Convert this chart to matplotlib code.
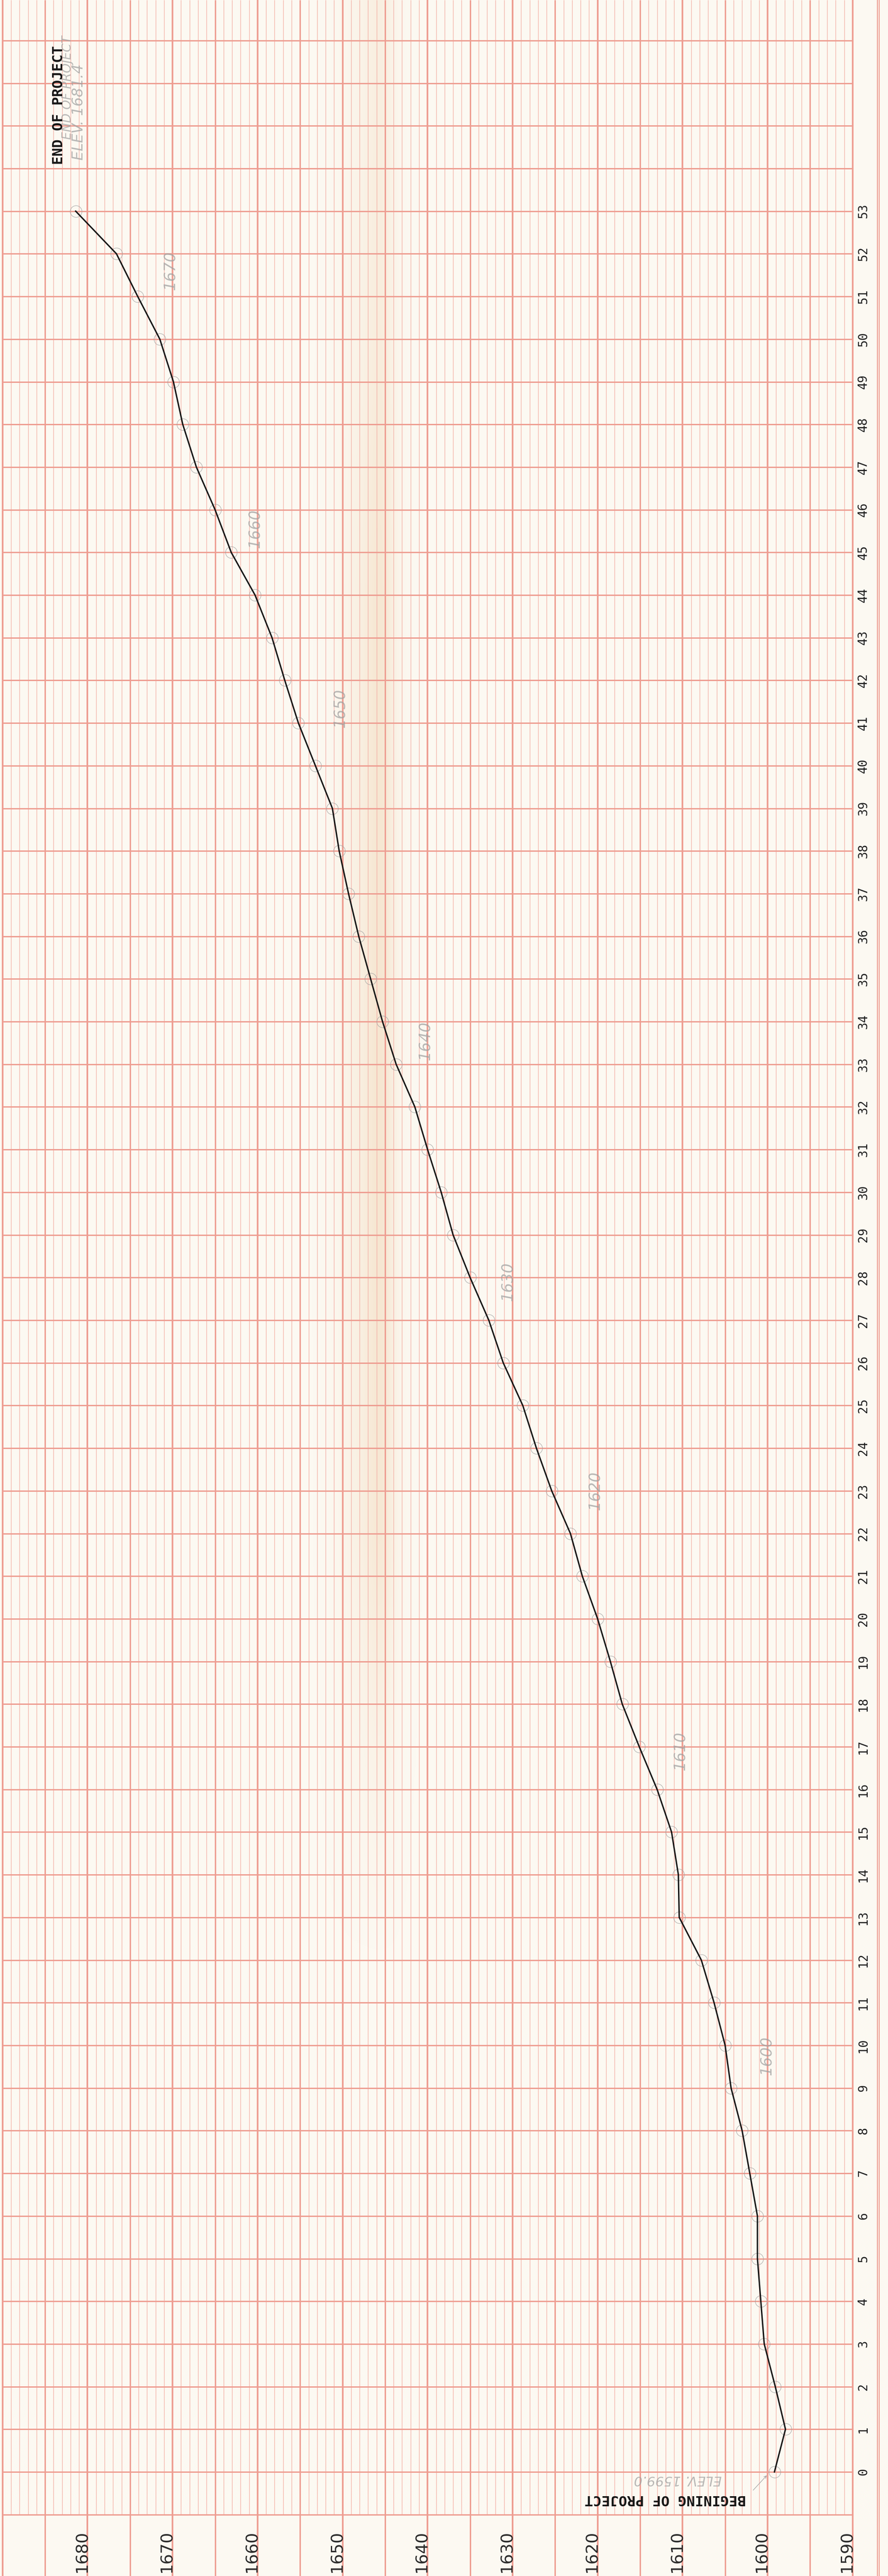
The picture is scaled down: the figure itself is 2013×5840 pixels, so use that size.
#!/usr/bin/env python3
"""
plot.py
───────
Road profile on red graph paper: elevation vs. station, drawn turned on its side
(stations run up the sheet, elevation runs right to left).
"""

import matplotlib
matplotlib.use("Agg")
import matplotlib.pyplot as plt
import numpy as np

# ── Data ─────────────────────────────────────────────────────────────────────

STATIONS = list(range(0, 54))

ELEVATION = [
    1599.2, 1597.9, 1599.1, 1600.4, 1600.8, 1601.2, 1601.2, 1602.1, 1603.0, 1604.3,
    1605.0, 1606.3, 1607.8, 1610.4, 1610.5, 1611.3, 1613.0, 1615.1, 1617.1, 1618.5,
    1620.0, 1621.8, 1623.2, 1625.4, 1627.2, 1628.8, 1631.1, 1632.8, 1635.0, 1637.0,
    1638.4, 1640.0, 1641.5, 1643.7, 1645.3, 1646.7, 1648.1, 1649.3, 1650.4, 1651.2,
    1653.2, 1655.2, 1656.8, 1658.3, 1660.3, 1663.1, 1665.0, 1667.2, 1668.8, 1669.9,
    1671.5, 1674.1, 1676.6, 1681.4,
]

ELEV_TICKS = [1680, 1670, 1660, 1650, 1640, 1630, 1620, 1610, 1600, 1590]

# pencil contour notes written along the profile (value, station)
PENCIL_NOTES = [
    ("1670", 1670.3, 51.6),
    ("1660", 1660.3, 45.55),
    ("1650", 1650.3, 41.35),
    ("1640", 1640.3, 33.55),
    ("1630", 1630.6, 27.9),
    ("1620", 1620.3, 23.0),
    ("1610", 1610.3, 16.9),
    ("1600", 1600.1, 9.75),
]

# ── Sheet geometry (data units) ──────────────────────────────────────────────

W_PX, H_PX = 2013, 5840
X_LIM = (1690.30, 1585.84)     # elevation grows to the left
Y_LIM = (-2.44, 57.95)
GRID_LEFT, GRID_RIGHT = 1690, 1590
GRID_BOTTOM = -1
EDGE_RULE = 1586.98

PAPER = "#fcf9f2"
RED_FINE = "#f4b3a9"
RED_MID = "#ee9d91"
PENCIL = "#a2a2a2"
INK = "#161616"

MONO = ["DejaVu Sans Mono"]


def draw_stain(ax):
    # faint orange water stain running down the sheet
    xs = np.linspace(1658, 1634, 240)
    ys = np.linspace(12, Y_LIM[1], 300)
    X, Y = np.meshgrid(xs, ys)
    across = 0.35 * np.exp(-((X - 1645.4) / 1.6) ** 2) + 0.35 * np.exp(-((X - 1647.0) / 3.4) ** 2)
    along = np.interp(Y, [12, 17, 22, 30, 44, 50, 58], [0.0, 0.3, 0.75, 0.85, 0.8, 0.55, 0.45])
    img = np.zeros(X.shape + (4,))
    img[..., 0] = 0.92
    img[..., 1] = 0.75
    img[..., 2] = 0.55
    img[..., 3] = np.clip(across * along, 0, 1) * 0.6
    ax.imshow(img, extent=[xs[0], xs[-1], ys[0], ys[-1]], origin="lower",
              aspect="auto", interpolation="bilinear", zorder=0)


def draw_paper(ax):
    top = Y_LIM[1]
    fine = [e for e in range(GRID_RIGHT, GRID_LEFT + 1) if e % 5]
    five = [e for e in range(GRID_RIGHT, GRID_LEFT + 1) if e % 5 == 0 and e % 10]
    ten = [e for e in range(GRID_RIGHT, GRID_LEFT + 1) if e % 10 == 0]

    ax.vlines(fine, GRID_BOTTOM, top, color=RED_FINE, lw=1.0, zorder=1)
    ax.vlines(five, Y_LIM[0], top, color=RED_MID, lw=2.3, zorder=1)
    ax.vlines(ten, Y_LIM[0], top, color=RED_MID, lw=2.7, zorder=1)

    rows = list(range(GRID_BOTTOM, int(top) + 1))
    ax.hlines(rows, GRID_LEFT, GRID_RIGHT, color=RED_MID, lw=2.2, zorder=1)

    # double rule at the right edge of the sheet
    ax.vlines([EDGE_RULE + 0.08, EDGE_RULE - 0.08], Y_LIM[0], top, color=RED_MID, lw=1.6, zorder=1)


def draw_profile(ax):
    ax.plot(ELEVATION, STATIONS, "o", ms=19, mfc="none", mec=PENCIL, mew=0.9,
            alpha=0.8, zorder=3)
    ax.plot(ELEVATION, STATIONS, color=INK, lw=2.3, solid_joinstyle="miter", zorder=4)


def draw_labels(ax):
    for s in STATIONS:
        ax.text(1588.75, s, str(s), rotation=90, ha="center", va="center",
                fontsize=20, family=MONO, color="#1e1e1e", zorder=5)

    for e in ELEV_TICKS:
        ax.text(e + 0.65, -1.86, str(e), rotation=90, ha="center", va="center",
                fontsize=27, color="#2a2a2a", zorder=5)

    ax.text(1683.35, 55.49, "END OF PROJECT", rotation=90, ha="center", va="center",
            fontsize=23, family=MONO, fontweight="bold", color=INK, zorder=5)
    ax.text(1612.05, -0.64, "BEGINING OF PROJECT", rotation=180, ha="center", va="center",
            fontsize=23, family=MONO, fontweight="bold", color=INK, zorder=5)

    # pencil notes
    pencil = dict(color=PENCIL, style="italic", alpha=0.75, zorder=2)
    ax.text(1682.35, 55.9, "END OF PROJECT", rotation=90, ha="center", va="center",
            fontsize=20, **pencil)
    ax.text(1681.05, 55.32, "ELEV. 1681.4", rotation=90, ha="center", va="center",
            fontsize=24, **pencil)
    ax.text(1610.55, -0.18, "ELEV. 1599.0", rotation=180, ha="center", va="center",
            fontsize=22, **pencil)
    ax.annotate("", xy=(1600.0, -0.06), xytext=(1601.8, -0.45),
                arrowprops=dict(arrowstyle="->", color=PENCIL, lw=0.9), zorder=2)
    for txt, e, s in PENCIL_NOTES:
        ax.text(e, s, txt, rotation=90, ha="center", va="center", fontsize=25, **pencil)


def main():
    fig = plt.figure(figsize=(W_PX / 100, H_PX / 100), dpi=100, facecolor=PAPER)
    ax = fig.add_axes([0, 0, 1, 1])
    ax.set_facecolor(PAPER)
    ax.set_xlim(*X_LIM)
    ax.set_ylim(*Y_LIM)
    ax.axis("off")

    draw_stain(ax)
    draw_paper(ax)
    draw_profile(ax)
    draw_labels(ax)

    fig.savefig("out.png", dpi=100, facecolor=PAPER)
    plt.close(fig)


if __name__ == "__main__":
    main()
